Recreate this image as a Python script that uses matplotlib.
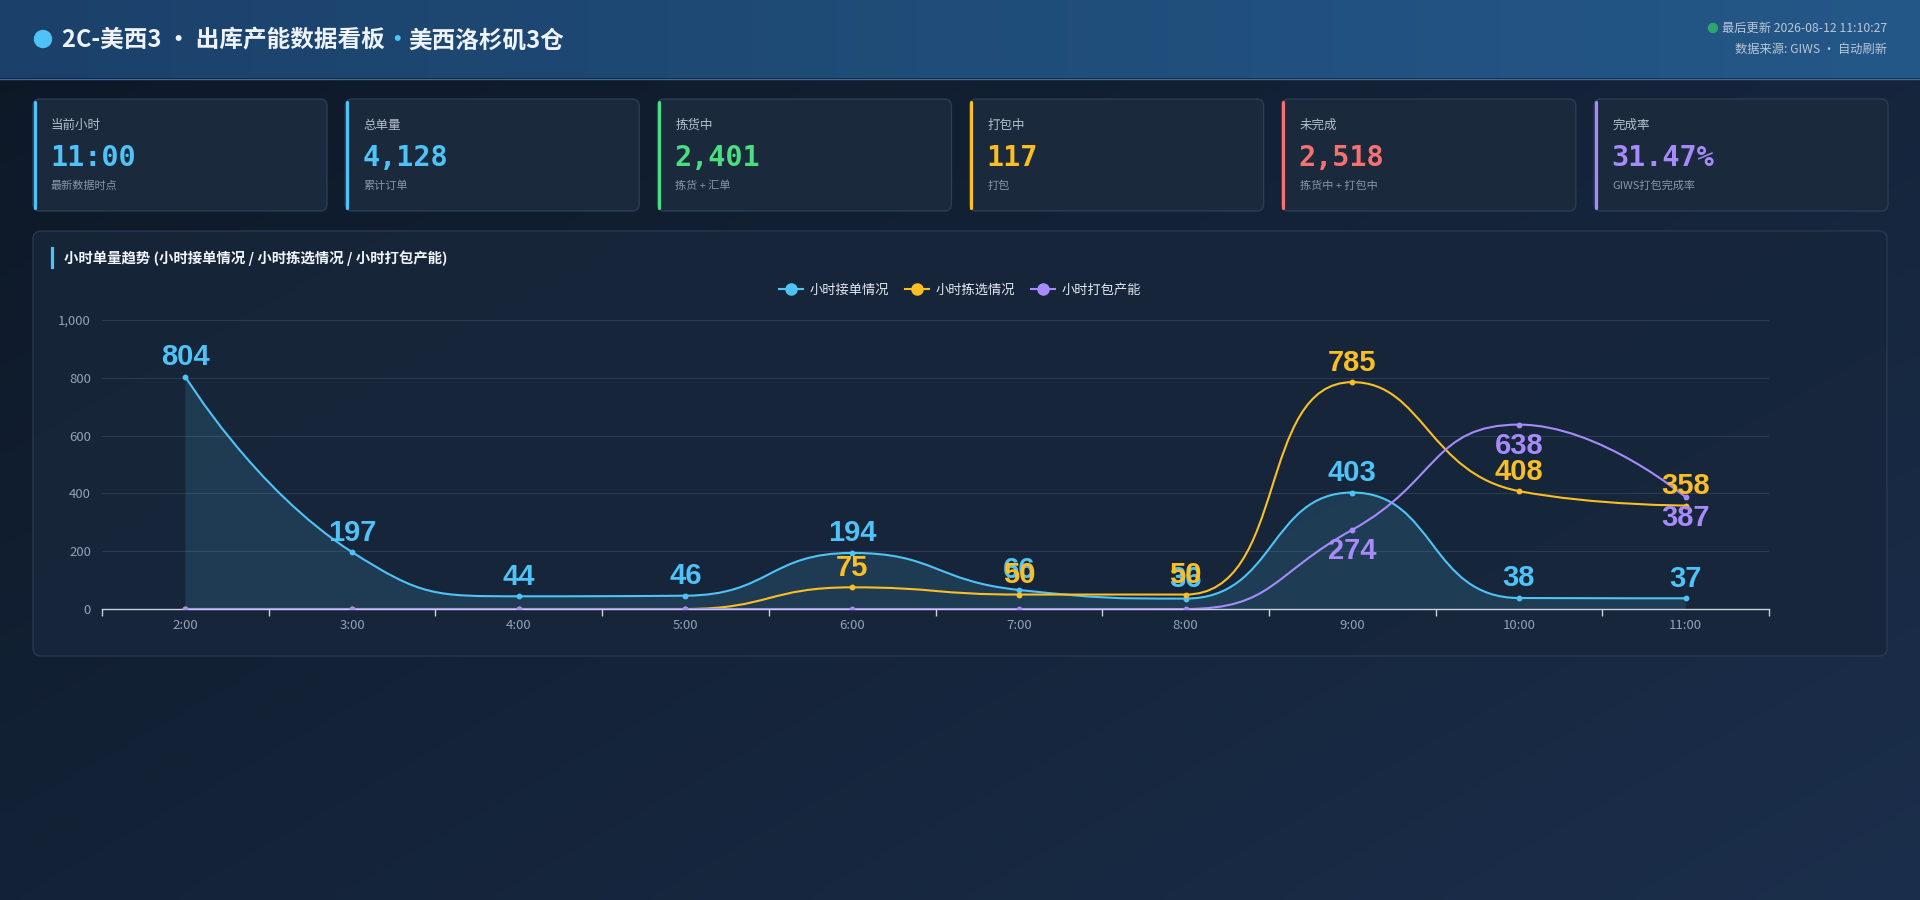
#!/usr/bin/env python3
"""Dashboard 2C-美西3 : cartes KPI + courbe horaire (style ECharts)"""

import numpy as np
import matplotlib
matplotlib.use("Agg")
import matplotlib.pyplot as plt
from matplotlib.patches import FancyBboxPatch, PathPatch, Circle
from matplotlib.path import Path
from matplotlib.lines import Line2D
from matplotlib.colors import to_rgb

plt.rcParams['font.family'] = ['Noto Sans CJK SC', 'DejaVu Sans']

# ── Data ──────────────────────────────────────────────────────
HOURS = ['2:00', '3:00', '4:00', '5:00', '6:00', '7:00', '8:00', '9:00', '10:00', '11:00']
RECV = [804, 197, 44, 46, 194, 66, 36, 403, 38, 37]      # 小时接单情况
PICK = [0, 0, 0, 0, 75, 50, 50, 785, 408, 358]           # 小时拣选情况
PACK = [0, 0, 0, 0, 0, 0, 0, 274, 638, 387]              # 小时打包产能
SERIES_NAMES = ['小时接单情况', '小时拣选情况', '小时打包产能']

CARD_TITLES = ['当前小时', '总单量', '拣货中', '打包中', '未完成', '完成率']
CARD_VALUES = ['11:00', '4,128', '2,401', '117', '2,518', '31.47%']
CARD_SUBS = ['最新数据时点', '累计订单', '拣货 + 汇单', '打包', '拣货中 + 打包中', 'GIWS打包完成率']

TITLE_MAIN = '2C-美西3 · 出库产能数据看板'
TITLE_SITE = '美西洛杉矶3仓'
UPDATED = '最后更新 2026-08-12 11:10:27'
SOURCE = '数据来源: GIWS · 自动刷新'
CHART_TITLE = '小时单量趋势 (小时接单情况 / 小时拣选情况 / 小时打包产能)'

# ── Style ─────────────────────────────────────────────────────
BLUE = '#4fc3f7'
YELLOW = '#fbbf24'
PURPLE = '#a78bfa'
GREEN = '#4ade80'
RED = '#f87171'
CARD_COLORS = [BLUE, BLUE, GREEN, YELLOW, RED, PURPLE]
SERIES_COLORS = [BLUE, YELLOW, PURPLE]

W, H = 1920, 900
fig = plt.figure(figsize=(W / 100, H / 100), dpi=100)

# fond en coordonnées pixel (y vers le bas)
bg = fig.add_axes([0, 0, 1, 1])
bg.set_xlim(0, W)
bg.set_ylim(H, 0)
bg.axis('off')


def gradient(c0, c1, tx, ty, nx=200, ny=100):
    a, b = np.array(to_rgb(c0)), np.array(to_rgb(c1))
    xx, yy = np.meshgrid(np.linspace(0, 1, nx), np.linspace(0, 1, ny))
    t = np.clip(xx * tx + yy * ty, 0, 1)[..., None]
    return a * (1 - t) + b * t


bg.imshow(gradient('#0d1826', '#1b2e4b', 0.55, 0.45), extent=(0, W, H, 0),
          aspect='auto', zorder=0, interpolation='bicubic')
# header
bg.imshow(gradient('#1b416a', '#245888', 1.0, 0.0), extent=(0, W, 78, 0),
          aspect='auto', zorder=1, interpolation='bicubic')
bg.plot([0, W], [78.5, 78.5], color='#3d6c9c', lw=1, zorder=2)

bg.add_patch(Circle((43, 39), 8.5, color=BLUE, zorder=3))
t1 = bg.text(62, 40, TITLE_MAIN, color='#eef3f8', fontsize=17, fontweight='bold',
             va='center', ha='left', zorder=3)
fig.canvas.draw()
r = fig.canvas.get_renderer()
x_end = bg.transData.inverted().transform(t1.get_window_extent(r).get_points())[1, 0]
bg.text(x_end + 12, 40, '·', color=BLUE, fontsize=17, fontweight='bold',
        va='center', ha='center', zorder=3)
bg.text(x_end + 24, 40, TITLE_SITE, color='#eef3f8', fontsize=17, fontweight='bold',
        va='center', ha='left', zorder=3)

bg.text(1887, 28, UPDATED, color='#b7c7d8', fontsize=8.8, ha='right', va='center', zorder=3)
t_upd = bg.text(1887, 28, UPDATED, alpha=0, fontsize=8.8, ha='right', va='center')
fig.canvas.draw()
x_upd = bg.transData.inverted().transform(t_upd.get_window_extent(r).get_points())[0, 0]
bg.add_patch(Circle((x_upd - 9, 28), 4.5, color='#2ea56e', zorder=3))
bg.text(1887, 49, SOURCE, color='#b7c7d8', fontsize=8.8, ha='right', va='center', zorder=3)

# ── Cartes KPI ────────────────────────────────────────────────
card_w, card_gap, card_y, card_h = 294, 18.2, 99, 112
for i, (title, val, sub, col) in enumerate(zip(CARD_TITLES, CARD_VALUES, CARD_SUBS, CARD_COLORS)):
    x0 = 33 + i * (card_w + card_gap)
    bg.add_patch(FancyBboxPatch((x0, card_y), card_w, card_h,
                                boxstyle='round,pad=0,rounding_size=7',
                                fc='#1b293d', ec='#2c3c54', lw=1, zorder=2))
    bg.plot([x0 + 1.5, x0 + 1.5], [card_y + 3, card_y + card_h - 3], color=col,
            lw=2.3, solid_capstyle='round', zorder=3)
    bg.text(x0 + 18, card_y + 26, title, color='#b3bfcd', fontsize=9, va='center', zorder=3)
    bg.text(x0 + 17, card_y + 59, val, color=col, fontsize=20.5, fontweight='bold',
            family='DejaVu Sans Mono', va='center', zorder=3)
    bg.text(x0 + 18, card_y + 87, sub, color='#8797ab', fontsize=8, va='center', zorder=3)

# ── Panneau graphique ─────────────────────────────────────────
bg.add_patch(FancyBboxPatch((33, 231), 1854, 425, boxstyle='round,pad=0,rounding_size=8',
                            fc='#17263a', ec='#283a52', lw=1, zorder=2, alpha=0.9))
bg.plot([52, 52], [248, 267], color=BLUE, lw=2.3, zorder=3)
bg.text(64, 258, CHART_TITLE, color='#f1f5f9', fontsize=10.4, fontweight='bold',
        va='center', zorder=3)

ax_l, ax_r, ax_t, ax_b = 102, 1769, 320, 609
ax = fig.add_axes([ax_l / W, 1 - ax_b / H, (ax_r - ax_l) / W, (ax_b - ax_t) / H])
ax.set_facecolor('none')
ax.set_xlim(-0.5, len(HOURS) - 0.5)
ax.set_ylim(0, 1000)
px_x = (ax_r - ax_l) / len(HOURS)
px_y = (ax_b - ax_t) / 1000.0


def smooth_path(vals, smooth=0.5):
    """Courbe de Bézier façon ECharts (calcul en pixels, points de contrôle bornés)."""
    pts = [(i * px_x, v * px_y) for i, v in enumerate(vals)]
    verts, codes = [pts[0]], [Path.MOVETO]
    cp0 = pts[0]
    n = len(pts)
    for k in range(1, n):
        x, y = pts[k]
        px, py = pts[k - 1]
        if k == n - 1:
            cp1 = (x, y)
            nxt_cp0 = (x, y)
        else:
            nx, ny = pts[k + 1]
            vx, vy = nx - px, ny - py
            lp = np.hypot(x - px, y - py)
            ln = np.hypot(nx - x, ny - y)
            ratio = ln / (ln + lp)
            ncx = x + vx * smooth * ratio
            ncy = y + vy * smooth * ratio
            ncx = max(min(ncx, max(nx, x)), min(nx, x))
            ncy = max(min(ncy, max(ny, y)), min(ny, y))
            vx, vy = ncx - x, ncy - y
            c1x = x - vx * lp / ln
            c1y = y - vy * lp / ln
            c1x = max(min(c1x, max(px, x)), min(px, x))
            c1y = max(min(c1y, max(py, y)), min(py, y))
            vx, vy = x - c1x, y - c1y
            ncx = x + vx * ln / lp
            ncy = y + vy * ln / lp
            cp1 = (c1x, c1y)
            nxt_cp0 = (ncx, ncy)
        verts += [cp0, cp1, (x, y)]
        codes += [Path.CURVE4] * 3
        cp0 = nxt_cp0
    verts = [(vx_ / px_x, vy_ / px_y) for vx_, vy_ in verts]
    return verts, codes


ax.yaxis.grid(True, color='#2a3a50', lw=0.8)
ax.set_axisbelow(True)

for s, (vals, col) in enumerate(zip([RECV, PICK, PACK], SERIES_COLORS)):
    verts, codes = smooth_path(vals)
    if s == 0:
        fv = verts + [(len(vals) - 1, 0), (0, 0), verts[0]]
        fc = codes + [Path.LINETO, Path.LINETO, Path.CLOSEPOLY]
        ax.add_patch(PathPatch(Path(fv, fc), fc=BLUE, ec='none', alpha=0.14, zorder=2))
    ax.add_patch(PathPatch(Path(verts, codes), fc='none', ec=col, lw=1.5, zorder=3 + s))
    ax.plot(range(len(vals)), vals, 'o', ms=3.2, color=col, zorder=3 + s)

for s, (vals, col) in enumerate(zip([RECV, PICK, PACK], SERIES_COLORS)):
    below = (s == 2)
    for i, v in enumerate(vals):
        if v == 0:
            continue
        ax.annotate(str(v), (i, v), xytext=(0, -5 if below else 4), textcoords='offset points',
                    ha='center', va='top' if below else 'bottom', color=col,
                    fontsize=21, fontweight='bold', family='Liberation Sans',
                    zorder=10, annotation_clip=False)

for sp in ['top', 'right', 'left']:
    ax.spines[sp].set_visible(False)
ax.spines['bottom'].set_color('#c9d2de')
ax.spines['bottom'].set_linewidth(1)
ax.set_xticks(range(len(HOURS)))
ax.set_xticklabels(HOURS)
ax.set_xticks(np.arange(-0.5, len(HOURS)), minor=True)
ax.tick_params(axis='x', which='major', length=0, pad=7, colors='#93a3b6', labelsize=9.5)
ax.tick_params(axis='x', which='minor', length=5, color='#c9d2de', width=1)
ax.set_yticks(range(0, 1001, 200))
ax.set_yticklabels([f'{v:,}' for v in range(0, 1001, 200)])
ax.tick_params(axis='y', length=0, pad=8, colors='#93a3b6', labelsize=9.5)

handles = [Line2D([0], [0], color=c, lw=1.5, marker='o', ms=8) for c in SERIES_COLORS]
fig.legend(handles, SERIES_NAMES, loc='center', bbox_to_anchor=(0.5, 1 - 290 / H),
           ncol=3, frameon=False, fontsize=9.5, labelcolor='#e3e9f0', handlelength=1.8,
           handletextpad=0.5, columnspacing=1.2)

fig.savefig('out.png', dpi=100, facecolor=fig.get_facecolor())
